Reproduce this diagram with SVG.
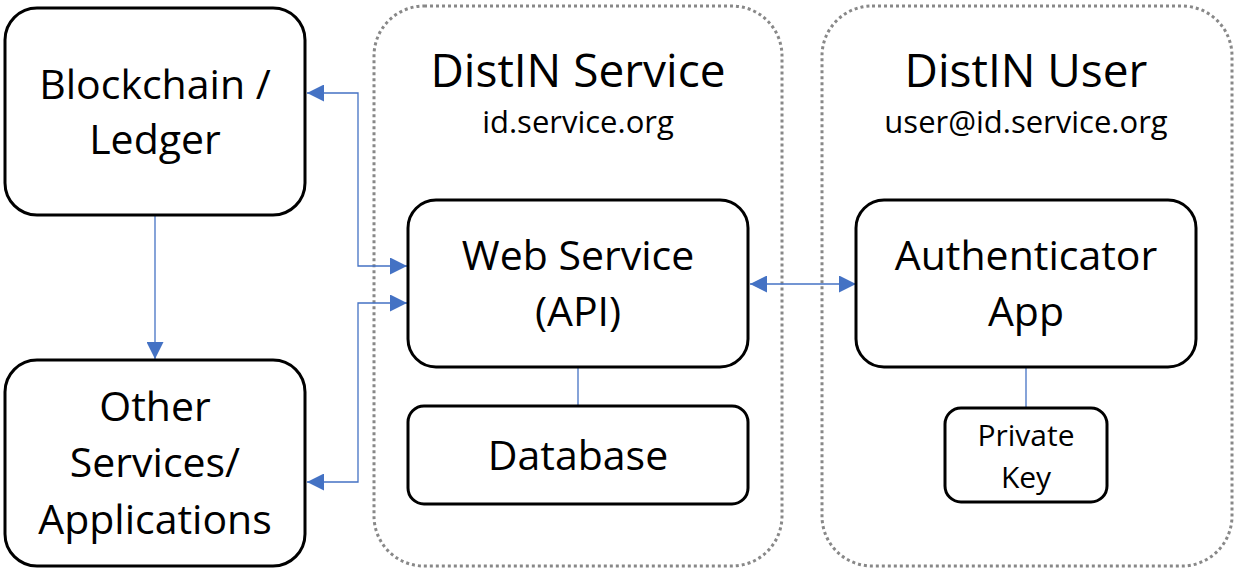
<svg xmlns="http://www.w3.org/2000/svg" width="1234" height="571" viewBox="0 0 1234 571">
<defs>
<style>
.box{fill:#fff;stroke:#000;stroke-width:3}
.cont{fill:none;stroke:#888;stroke-width:3;stroke-dasharray:3 3}
.t{font-family:"Open Sans","Liberation Sans",sans-serif;fill:#000;text-anchor:middle}
.c{fill:none;stroke:#4472c4;stroke-width:1.3}
</style>
<marker id="ah" viewBox="0 0 10 10" refX="10" refY="5" markerWidth="17" markerHeight="17" markerUnits="userSpaceOnUse" orient="auto-start-reverse"><path d="M0,0L10,5L0,10z" fill="#4472c4"/></marker>
</defs>
<rect width="1234" height="571" fill="#fff"/>
<g id="service-container"><rect class="cont" x="374" y="6" width="408" height="560" rx="50"/>
<text class="t" x="578" y="87" font-size="46">DistIN Service</text>
<text class="t" x="578" y="133" font-size="31">id.service.org</text></g>
<g id="user-container"><rect class="cont" x="822" y="6" width="410" height="560" rx="50"/>
<text class="t" x="1026" y="87" font-size="46">DistIN User</text>
<text class="t" x="1026" y="133" font-size="31">user@id.service.org</text></g>
<g id="connectors">
<polyline class="c" points="307,93 358,93 358,266 407,266" marker-start="url(#ah)" marker-end="url(#ah)"/>
<polyline class="c" points="307,482 358,482 358,303 407,303" marker-start="url(#ah)" marker-end="url(#ah)"/>
<line class="c" x1="750" y1="284" x2="856" y2="284" marker-start="url(#ah)" marker-end="url(#ah)"/>
<line class="c" x1="155" y1="215" x2="155" y2="359" marker-end="url(#ah)"/>
<line class="c" x1="578" y1="367" x2="578" y2="406"/>
<line class="c" x1="1026" y1="367" x2="1026" y2="408"/>
</g>
<g id="blockchain"><rect class="box" x="5" y="8" width="300" height="207" rx="32"/>
<text class="t" x="155" y="99" font-size="41">Blockchain /</text>
<text class="t" x="155" y="154" font-size="41">Ledger</text></g>
<g id="other"><rect class="box" x="5" y="360" width="300" height="206" rx="32"/>
<text class="t" x="155" y="421" font-size="41">Other</text>
<text class="t" x="155" y="477" font-size="41">Services/</text>
<text class="t" x="155" y="534" font-size="41">Applications</text></g>
<g id="webservice"><rect class="box" x="408" y="200" width="340" height="167" rx="28"/>
<text class="t" x="578" y="270" font-size="41">Web Service</text>
<text class="t" x="578" y="326" font-size="41">(API)</text></g>
<g id="database"><rect class="box" x="408" y="406" width="340" height="98" rx="16"/>
<text class="t" x="578" y="470" font-size="41">Database</text></g>
<g id="authenticator"><rect class="box" x="856" y="200" width="340" height="167" rx="28"/>
<text class="t" x="1026" y="270" font-size="41">Authenticator</text>
<text class="t" x="1026" y="326" font-size="41">App</text></g>
<g id="privatekey"><rect class="box" x="945" y="408" width="162" height="94" rx="16"/>
<text class="t" x="1026" y="446" font-size="30">Private</text>
<text class="t" x="1026" y="488" font-size="30">Key</text></g>
</svg>
